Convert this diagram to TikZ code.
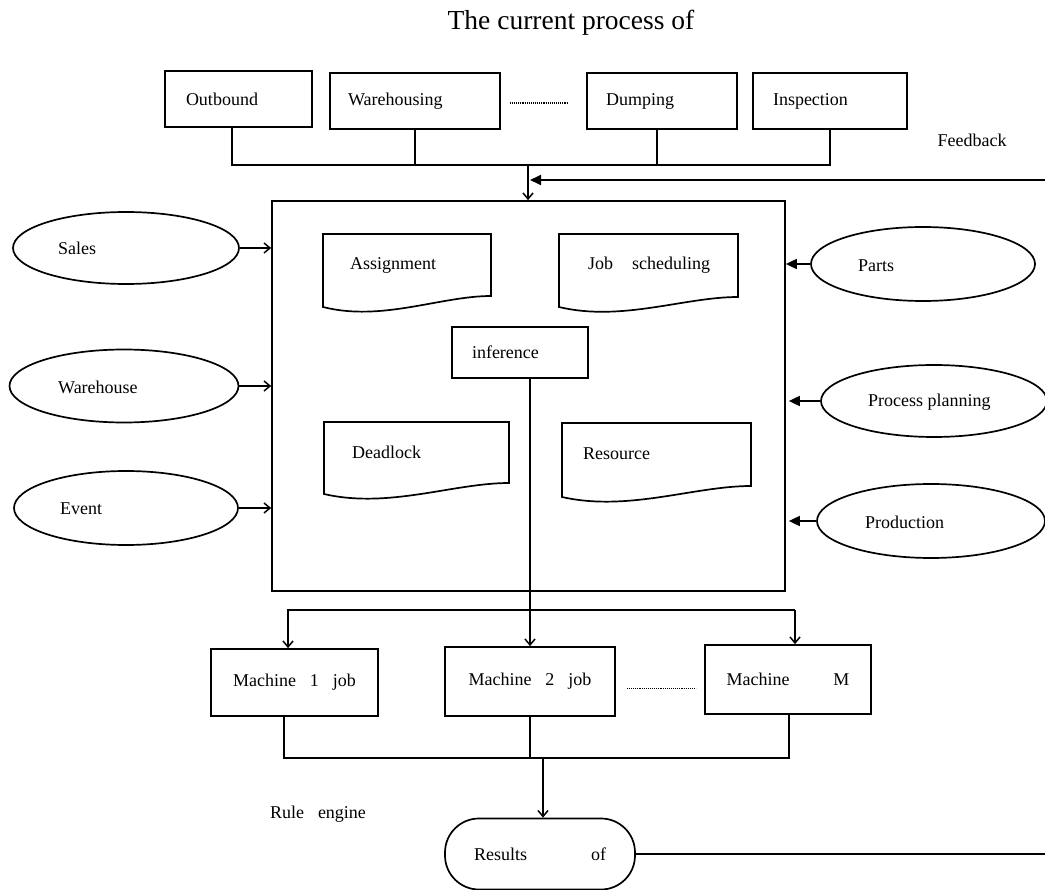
\documentclass[tikz,border=0pt]{standalone}
\usepackage{fontspec}
\setmainfont{Liberation Serif}
\usetikzlibrary{arrows.meta,calc,shapes.geometric}
\newcommand\docpath[5]{\draw[boxline] (#1,#3) -- (#2,#3) -- (#2,#4) .. controls ({#2-0.3*(#2-#1)},#4) and ({#1+0.35*(#2-#1)},{#5+15}) .. (#1,#5) -- cycle;}
\begin{document}
\begin{tikzpicture}[x=1pt,y=-1pt,
  every node/.style={font=\fontsize{18}{20}\selectfont},
  boxline/.style={line width=1.7pt},
  box/.style={draw,boxline,rectangle,align=left,inner ysep=0pt},
  mbox/.style={draw,boxline,rectangle,align=center,inner sep=0pt},
  ell/.style={draw,boxline,ellipse,inner sep=0pt},
  conn/.style={line width=1.7pt},
  openarr/.style={conn,-{Straight Barb[length=6pt,width=10pt,line width=1.5pt]}},
  fillarr/.style={conn,-{Triangle[length=11pt,width=10pt]}},
  lbl/.style={anchor=west,inner sep=0pt}
]
\useasboundingbox (0,0) rectangle (1045,890);

\node[font=\fontsize{27.5}{30}\selectfont] (title) at (571,23) {The current process of};

% top boxes
\node[box,text width=105pt,inner xsep=21pt,minimum height=56pt] (outb) at (238.5,99) {Outbound};
\node[box,text width=134pt,inner xsep=18pt,minimum height=56pt] (wareh) at (415,101) {Warehousing};
\node[box,text width=112pt,inner xsep=19pt,minimum height=56pt] (dump) at (662,101) {Dumping};
\node[box,text width=114pt,inner xsep=20pt,minimum height=56pt] (insp) at (830,101) {Inspection};
\draw[line width=1.1pt,densely dotted] ($(wareh.east)+(9,2)$) -- ($(dump.west)+(-19,2)$);
\node (fb) at (972,140) {Feedback};

\coordinate (topbus) at (528,165);
\node[draw,boxline,minimum width=513pt,minimum height=390pt,inner sep=0pt] (main) at (528.5,396) {};

\draw[conn] ([xshift=-6.5pt]outb.south) |- (insp.south |- topbus) -- (insp.south);
\draw[conn] (wareh.south) -- (wareh.south |- topbus);
\draw[conn] ([xshift=-5pt]dump.south) -- ([xshift=-5pt]dump.south |- topbus);
\draw[openarr] (topbus) -- (topbus |- main.north);

% feedback loop
\coordinate (fbx) at (1053,180);

% left ellipses
\node[ell,minimum width=226pt,minimum height=72pt] (sales) at (126,248) {};
\node[lbl] (salest) at (58,248) {Sales};
\node[ell,minimum width=229pt,minimum height=73pt] (whouse) at (124,386) {};
\node[lbl] (whouset) at (58,387) {Warehouse};
\node[ell,minimum width=224pt,minimum height=74pt] (event) at (126,508) {};
\node[lbl] (eventt) at (60,509) {Event};
\draw[openarr] (sales.east) -- (sales.east -| main.west);
\draw[openarr] (whouse.east) -- (whouse.east -| main.west);
\draw[openarr] (event.east) -- (event.east -| main.west);

% right ellipses
\node[ell,minimum width=224pt,minimum height=74pt] (parts) at (923,264) {};
\node[lbl] (partst) at (858,266) {Parts};
\node[ell,minimum width=226pt,minimum height=72pt] (pplan) at (934,401) {};
\node[lbl] (pplant) at (868,402) {Process planning};
\node[ell,minimum width=228pt,minimum height=74pt] (prod) at (931,521) {};
\node[lbl] (prodt) at (865,522) {Production};
\draw[fillarr] (parts.west) -- (parts.west -| main.east);
\draw[fillarr,shorten >=3pt] (pplan.west) -- (pplan.west -| main.east);
\draw[fillarr,shorten >=3pt] (prod.west) -- (prod.west -| main.east);

% documents inside
\docpath{323}{491}{234}{296}{307}
\node[lbl] (assign) at (350,265) {Assignment};
\docpath{559}{738}{234}{297}{307}
\node[lbl] (jobs) at (588,265) {Job\hspace{19pt}scheduling};
\docpath{324}{509}{422}{483}{494}
\node[lbl] (dead) at (352,452) {Deadlock};
\docpath{562}{751}{423}{486}{497}
\node[lbl] (res) at (583,454) {Resource};

\node[box,text width=96pt,inner xsep=20pt,minimum height=51pt] (inf) at (520,352.5) {inference};

% machines
\node[mbox,minimum width=167pt,minimum height=67pt] (m1) at (294.5,682.5) {Machine\hspace{14pt}1\hspace{14pt}job};
\node[mbox,minimum width=170pt,minimum height=69pt] (m2) at (530,681.5) {Machine\hspace{14pt}2\hspace{14pt}job};
\node[mbox,minimum width=166pt,minimum height=69pt] (m3) at (788,679.5) {Machine\hspace{44pt}M};
\draw[line width=1.1pt,densely dotted] ($(m2.east)+(11,7)$) -- ($(m3.west |- m2.east)+(-8,7)$);

\coordinate (dbus) at (530,610);
\draw[openarr] (inf.south -| m2.north) -- (m2.north);
\draw[openarr] ([xshift=7pt]m3.north |- dbus) -| ([xshift=-6.5pt]m1.north);
\draw[openarr] ([xshift=7pt]m3.north |- dbus) -- ([xshift=7pt]m3.north);

% results
\node[draw,boxline,rounded corners=34pt,minimum width=190pt,minimum height=71pt,inner sep=0pt] (resu) at (540,854) {Results\hspace{64pt}of};
\coordinate (bbus) at (543,758);
\draw[conn] ([xshift=-10.5pt]m1.south) |- ([xshift=1pt]m3.south |- bbus) -- ([xshift=1pt]m3.south);
\draw[conn] (m2.south) -- (m2.south |- bbus);
\draw[openarr] (bbus) -- (bbus |- resu.north);
\node (rule) at (318,814) {Rule\hspace{14pt}engine};

\draw[fillarr] (resu.east) -- (resu.east -| fbx) -- (fbx) -- ($(topbus |- fbx)+(2,0)$);
\end{tikzpicture}
\end{document}
